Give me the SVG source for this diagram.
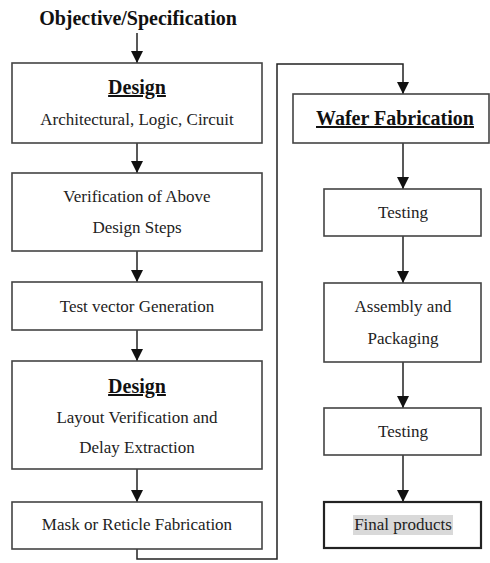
<svg xmlns="http://www.w3.org/2000/svg" width="490" height="563" viewBox="0 0 490 563">
<style>
.box{fill:#fff;stroke:#444;stroke-width:1.6}
.fin{fill:#fff;stroke:#222;stroke-width:2.2}
.t{font-family:"Liberation Serif","Times New Roman",serif;font-size:17px;fill:#222;text-anchor:middle}
.b{font-family:"Liberation Serif","Times New Roman",serif;font-size:20px;font-weight:bold;fill:#111;text-anchor:middle}
.u{text-decoration:underline}
.c{fill:none;stroke:#222;stroke-width:1.5}
</style>
<defs>
<marker id="ah" viewBox="0 0 12 12" refX="12" refY="6" markerWidth="12" markerHeight="12" markerUnits="userSpaceOnUse" orient="auto">
<path d="M0,0 L12,6 L0,12 z" fill="#111"/>
</marker>
</defs>
<g id="title"><text class="b" x="138" y="25">Objective/Specification</text></g>
<g id="connectors">
<line class="c" x1="137" y1="33" x2="137" y2="63" marker-end="url(#ah)"/>
<line class="c" x1="137" y1="143" x2="137" y2="173" marker-end="url(#ah)"/>
<line class="c" x1="137" y1="251" x2="137" y2="282" marker-end="url(#ah)"/>
<line class="c" x1="137" y1="330" x2="137" y2="361" marker-end="url(#ah)"/>
<line class="c" x1="137" y1="469" x2="137" y2="502" marker-end="url(#ah)"/>
<path class="c" d="M137,549 V559 H277 V64 H403 V94" marker-end="url(#ah)"/>
<line class="c" x1="403" y1="143" x2="403" y2="189" marker-end="url(#ah)"/>
<line class="c" x1="403" y1="236" x2="403" y2="283" marker-end="url(#ah)"/>
<line class="c" x1="403" y1="362" x2="403" y2="408" marker-end="url(#ah)"/>
<line class="c" x1="403" y1="455" x2="403" y2="502" marker-end="url(#ah)"/>
</g>
<g id="design1">
<rect class="box" x="12" y="63" width="250" height="80"/>
<text class="b u" x="137" y="94">Design</text>
<text class="t" x="137" y="125">Architectural, Logic, Circuit</text>
</g>
<g id="verification">
<rect class="box" x="12" y="173" width="250" height="78"/>
<text class="t" x="137" y="202">Verification of Above</text>
<text class="t" x="137" y="233">Design Steps</text>
</g>
<g id="testvector">
<rect class="box" x="12" y="282" width="250" height="48"/>
<text class="t" x="137" y="312">Test vector Generation</text>
</g>
<g id="design2">
<rect class="box" x="12" y="361" width="250" height="108"/>
<text class="b u" x="137" y="393">Design</text>
<text class="t" x="137" y="423">Layout Verification and</text>
<text class="t" x="137" y="453">Delay Extraction</text>
</g>
<g id="mask">
<rect class="box" x="12" y="502" width="250" height="47"/>
<text class="t" x="137" y="530">Mask or Reticle Fabrication</text>
</g>
<g id="wafer">
<rect class="box" x="293" y="94" width="196" height="49"/>
<text class="b u" x="395" y="125">Wafer Fabrication</text>
</g>
<g id="testing1">
<rect class="box" x="324" y="189" width="157" height="47"/>
<text class="t" x="403" y="218">Testing</text>
</g>
<g id="assembly">
<rect class="box" x="324" y="283" width="157" height="79"/>
<text class="t" x="403" y="312">Assembly and</text>
<text class="t" x="403" y="344">Packaging</text>
</g>
<g id="testing2">
<rect class="box" x="324" y="408" width="157" height="47"/>
<text class="t" x="403" y="437">Testing</text>
</g>
<g id="final">
<rect class="fin" x="324" y="502" width="157" height="46"/>
<rect x="353" y="515" width="100" height="20" fill="#d9d9d9"/>
<text class="t" x="403" y="530">Final products</text>
</g>
</svg>
